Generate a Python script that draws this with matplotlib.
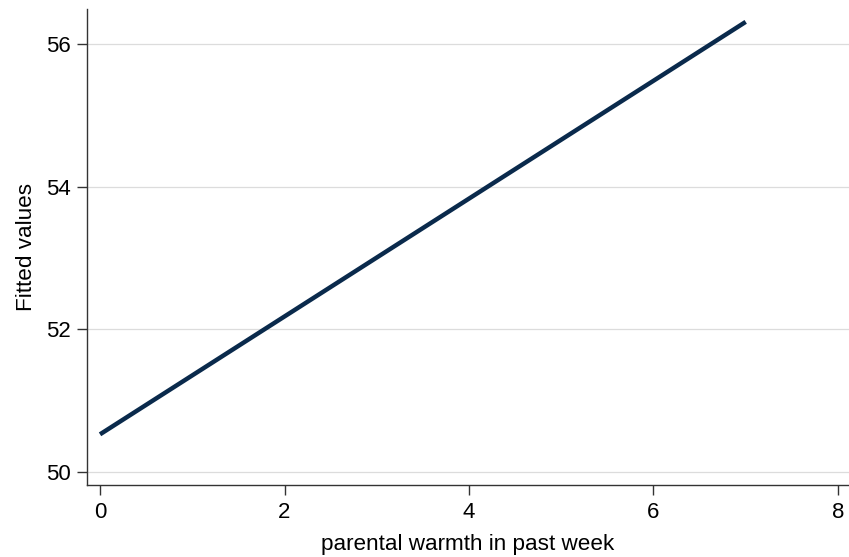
import matplotlib
matplotlib.use("Agg")
import matplotlib.pyplot as plt

# linear fit endpoints
warmth = [0, 7]
fitted = [50.53, 56.31]

x_ticks = [0, 2, 4, 6, 8]
y_ticks = [50, 52, 54, 56]

plt.rcParams["font.family"] = ["Liberation Sans", "DejaVu Sans"]

fig = plt.figure(figsize=(8.49, 5.57), dpi=100)
ax = fig.add_axes([0.1025, 0.1293, 0.8975, 0.8545])

ax.plot(warmth, fitted, color="#0a2a4c", linewidth=3.2, solid_capstyle="butt")

ax.set_xlim(-0.141, 8.12)
ax.set_ylim(49.82, 56.49)
ax.set_xticks(x_ticks)
ax.set_yticks(y_ticks)
ax.yaxis.grid(True, color="#dcdcdc", linewidth=0.9)
ax.set_axisbelow(True)

for side in ("top", "right"):
    ax.spines[side].set_visible(False)
for side in ("left", "bottom"):
    ax.spines[side].set_linewidth(1.0)
    ax.spines[side].set_color("#333333")

ax.tick_params(axis="both", length=7, width=1.0, color="#333333", labelsize=16, pad=5)
ax.set_xlabel("parental warmth in past week", fontsize=16.2, labelpad=8)
ax.set_ylabel("Fitted values", fontsize=16.2, labelpad=6)

fig.savefig("out.png", dpi=100)
